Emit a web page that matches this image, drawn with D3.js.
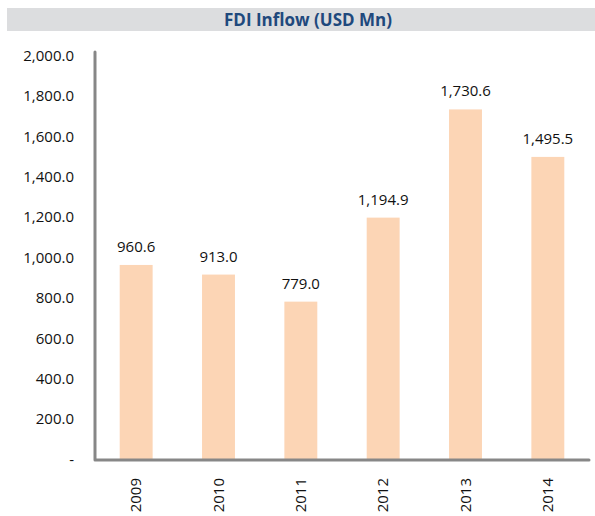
<!DOCTYPE html>
<html>
<head>
<meta charset="utf-8">
<script src="https://cdn.jsdelivr.net/npm/d3@7"></script>
<style>
  body { margin: 0; background: #fff; }
  svg { display: block; }
</style>
</head>
<body>
<script>
var years = ['2009', '2010', '2011', '2012', '2013', '2014'];
var fdiInflow = [960.6, 913.0, 779.0, 1194.9, 1730.6, 1495.5];
var yTicks = [0, 200, 400, 600, 800, 1000, 1200, 1400, 1600, 1800, 2000];
var chartTitle = 'FDI Inflow (USD Mn)';

var width = 595, height = 516;
var font = "'Open Sans', 'Liberation Sans', sans-serif";

var svg = d3.select('body').append('svg')
  .attr('width', width).attr('height', height);

// title band
svg.append('rect')
  .attr('x', 7).attr('y', 8).attr('width', 588).attr('height', 23)
  .attr('fill', '#dcdddf');
svg.append('text')
  .attr('x', 308).attr('y', 26)
  .attr('text-anchor', 'middle')
  .attr('font-family', font).attr('font-weight', 'bold')
  .attr('font-size', 17).attr('fill', '#1f497d')
  .text(chartTitle);

var x = d3.scaleBand().domain(years).range([95, 589]).paddingInner(0.6).paddingOuter(0.3);
var y = d3.scaleLinear().domain([0, 2000]).range([459, 55]);

// bars
svg.selectAll('rect.bar')
  .data(fdiInflow)
  .enter()
  .append('rect')
  .attr('class', 'bar')
  .attr('x', function(d, i) { return x(years[i]); })
  .attr('width', x.bandwidth())
  .attr('y', function(d) { return y(d); })
  .attr('height', function(d) { return y(0) - y(d); })
  .attr('fill', '#fcd5b5');

// value labels
svg.selectAll('text.val')
  .data(fdiInflow)
  .enter()
  .append('text')
  .attr('class', 'val')
  .attr('x', function(d, i) { return x(years[i]) + x.bandwidth() / 2; })
  .attr('y', function(d) { return y(d) - 13; })
  .attr('text-anchor', 'middle')
  .attr('font-family', font).attr('font-size', 15).attr('fill', '#111')
  .text(function(d) { return d3.format(',.1f')(d); });

// y axis labels
var fmt = function(d) { return d === 0 ? '-' : d3.format(',.1f')(d); };
var yAxis = d3.axisLeft(y).tickValues(yTicks).tickFormat(fmt).tickSize(0).tickPadding(21);
var gy = svg.append('g').attr('transform', 'translate(95,0)').call(yAxis);
gy.select('.domain').remove();
gy.selectAll('text')
  .attr('font-family', font).attr('font-size', 15).attr('fill', '#111')
  .attr('dy', '0.35em');

// x axis labels (rotated)
var xAxis = d3.axisBottom(x).tickSize(0).tickPadding(0);
var gx = svg.append('g').attr('transform', 'translate(0,460)').call(xAxis);
gx.select('.domain').remove();
gx.selectAll('text')
  .attr('font-family', font).attr('font-size', 15).attr('fill', '#111')
  .attr('transform', 'rotate(-90)')
  .attr('text-anchor', 'end')
  .attr('x', -18).attr('y', 0).attr('dy', '0.35em');

// axis lines
svg.append('path')
  .attr('d', 'M95,52 L95,460 L589,460')
  .attr('fill', 'none').attr('stroke', '#878787')
  .attr('stroke-width', 3).attr('stroke-linejoin', 'round').attr('stroke-linecap', 'round');
</script>
</body>
</html>
